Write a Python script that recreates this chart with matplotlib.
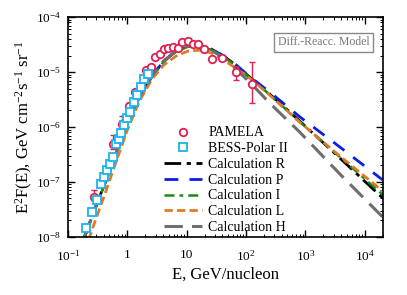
import numpy as np
import matplotlib
matplotlib.use("Agg")
import matplotlib.pyplot as plt
from matplotlib.ticker import FixedLocator, LogLocator, NullFormatter

plt.rcParams["font.family"] = ["Liberation Serif", "DejaVu Serif"]
plt.rcParams["mathtext.fontset"] = "custom"
plt.rcParams["mathtext.rm"] = "Liberation Serif"
plt.rcParams["mathtext.it"] = "Liberation Serif:italic"

# ── data ────────────────────────────────────────────────────────────────
pamela_e = [0.279, 0.58, 0.82, 1.08, 1.34, 1.67, 2.06, 2.55, 2.97, 3.54, 4.22,
            4.92, 5.86, 7.11, 8.47, 10.5, 12.7, 15.4, 19.5, 26.3, 38.7, 67.4, 128]
pamela_f = [5.4e-8, 4.84e-7, 1.12e-6, 2.41e-6, 4.39e-6, 5.34e-6, 1.11e-5, 1.26e-5,
            1.87e-5, 2.17e-5, 2.67e-5, 2.73e-5, 2.91e-5, 2.79e-5, 3.59e-5, 3.74e-5,
            3.23e-5, 3.3e-5, 2.59e-5, 1.70e-5, 1.82e-5, 1.02e-5, 5.97e-6]
pamela_lo = [4.6e-8, 3.9e-7, 9.5e-7, 2.2e-6, 4.1e-6, 5.1e-6, 1.06e-5, 1.22e-5,
             1.83e-5, 2.13e-5, 2.63e-5, 2.69e-5, 2.87e-5, 2.75e-5, 3.53e-5, 3.68e-5,
             3.18e-5, 3.25e-5, 2.52e-5, 1.58e-5, 1.76e-5, 7.3e-6, 2.7e-6]
pamela_hi = [7.2e-8, 7.2e-7, 1.6e-6, 2.75e-6, 4.7e-6, 5.6e-6, 1.16e-5, 1.30e-5,
             1.91e-5, 2.21e-5, 2.71e-5, 2.77e-5, 2.95e-5, 2.83e-5, 3.65e-5, 3.80e-5,
             3.28e-5, 3.35e-5, 2.66e-5, 1.76e-5, 1.88e-5, 1.30e-5, 1.52e-5]

bess_e = [0.205, 0.258, 0.307, 0.36, 0.404, 0.454, 0.51, 0.573, 0.655, 0.723,
          0.78, 0.877, 1.0, 1.11, 1.29, 1.48, 1.69, 1.90, 2.22]
bess_f = [1.43e-8, 2.85e-8, 4.61e-8, 9.2e-8, 1.23e-7, 1.62e-7, 2.12e-7, 2.85e-7,
          4.91e-7, 6.05e-7, 7.87e-7, 1.09e-6, 1.46e-6, 1.87e-6, 2.85e-6, 3.82e-6,
          5.45e-6, 7.46e-6, 9.2e-6]

calc_e = [0.19, 0.28, 0.42, 0.62, 1.0, 1.6, 2.6, 4.1, 6.6, 10.5, 17, 26, 42, 67,
          115, 250, 800, 3800, 20000]
calc_r = [1.0e-8, 3.1e-8, 9.6e-8, 2.97e-7, 1.23e-6, 3.51e-6, 8.46e-6, 1.58e-5,
          2.41e-5, 2.97e-5, 2.97e-5, 2.62e-5, 1.95e-5, 1.34e-5, 8.11e-6, 3.98e-6,
          1.29e-6, 2.73e-7, 5.12e-8]
calc_p = [1.0e-8, 3.1e-8, 9.6e-8, 2.97e-7, 1.23e-6, 3.51e-6, 8.46e-6, 1.58e-5,
          2.41e-5, 2.97e-5, 2.97e-5, 2.62e-5, 1.97e-5, 1.37e-5, 8.3e-6, 4.33e-6,
          1.54e-6, 4.33e-7, 1.09e-7]
calc_i = [1.0e-8, 3.0e-8, 9.2e-8, 2.85e-7, 1.18e-6, 3.4e-6, 8.2e-6, 1.54e-5,
          2.35e-5, 2.9e-5, 2.9e-5, 2.55e-5, 1.9e-5, 1.3e-5, 7.9e-6, 3.9e-6,
          1.25e-6, 2.85e-7, 5.9e-8]
calc_l = [5.34e-9, 1.80e-8, 6.05e-8, 2.04e-7, 8.81e-7, 2.97e-6, 7.46e-6, 1.34e-5,
          1.95e-5, 2.41e-5, 2.51e-5, 2.22e-5, 1.65e-5, 1.18e-5, 7.78e-6, 3.82e-6,
          1.23e-6, 2.97e-7, 6.86e-8]
calc_h = [1.0e-8, 3.1e-8, 9.6e-8, 2.97e-7, 1.23e-6, 3.51e-6, 8.46e-6, 1.58e-5,
          2.41e-5, 2.97e-5, 2.97e-5, 2.51e-5, 1.80e-5, 1.13e-5, 6.58e-6, 2.73e-6,
          8.11e-7, 1.40e-7, 2.31e-8]

x_ticks = [0.1, 1, 10, 100, 1000, 10000]
x_ticklabels = ["$10^{-1}$", "1", "10", "$10^{2}$", "$10^{3}$", "$10^{4}$"]
y_ticks = [1e-8, 1e-7, 1e-6, 1e-5, 1e-4]
y_ticklabels = ["$10^{-8}$", "$10^{-7}$", "$10^{-6}$", "$10^{-5}$", "$10^{-4}$"]

# ── plot ────────────────────────────────────────────────────────────────
fig = plt.figure(figsize=(4.07, 2.95), dpi=100)
ax = fig.add_axes([0.167, 0.197, 0.773, 0.745])

red = "#e0204f"
cyan = "#19b4ec"

ax.plot(calc_e, calc_r, color="black", lw=2.0, dashes=(6, 2, 1.5, 2), label="Calculation R")
ax.plot(calc_e, calc_p, color="#0a1ee6", lw=2.0, dashes=(5, 4), label="Calculation P")
ax.plot(calc_e, calc_i, color="#1a8a1a", lw=1.8, dashes=(4, 2, 1.5, 2), label="Calculation I")
ax.plot(calc_e, calc_l, color="#e07a28", lw=2.0, dashes=(3, 1.5), label="Calculation L")
ax.plot(calc_e, calc_h, color="#6e6e6e", lw=2.2, dashes=(6, 3), label="Calculation H")

pf = np.array(pamela_f)
yerr = [pf - np.array(pamela_lo), np.array(pamela_hi) - pf]
ax.errorbar(pamela_e, pamela_f, yerr=yerr, fmt="none", ecolor=red, elinewidth=1.0,
            capsize=2.5, capthick=1.0, zorder=5)
ax.plot(pamela_e, pamela_f, "o", ms=5.4, mfc="white", mec=red, mew=1.3,
        ls="none", label="PAMELA", zorder=6)
ax.plot(bess_e, bess_f, "s", ms=5.4, mfc="white", mec=cyan, mew=1.3,
        ls="none", label="BESS-Polar II", zorder=6)

ax.set_xscale("log")
ax.set_yscale("log")
ax.set_xlim(0.1, 2e4)
ax.set_ylim(1e-8, 1e-4)

ax.xaxis.set_major_locator(FixedLocator(x_ticks))
ax.set_xticklabels(x_ticklabels)
ax.yaxis.set_major_locator(FixedLocator(y_ticks))
ax.set_yticklabels(y_ticklabels)
ax.xaxis.set_minor_locator(LogLocator(base=10, subs=np.arange(2, 10), numticks=20))
ax.yaxis.set_minor_locator(LogLocator(base=10, subs=np.arange(2, 10), numticks=20))
ax.xaxis.set_minor_formatter(NullFormatter())
ax.yaxis.set_minor_formatter(NullFormatter())
ax.tick_params(which="both", direction="in", top=True, right=True, labelsize=9.5)
ax.tick_params(which="major", length=5, width=1.0)
ax.tick_params(which="minor", length=2.5, width=0.7)
ax.tick_params(axis="x", pad=9)
ax.tick_params(axis="y", pad=5)
for s in ax.spines.values():
    s.set_linewidth(1.2)

ax.set_xlabel("E, GeV/nucleon", fontsize=12, labelpad=2)
ax.set_ylabel("E$^2$F(E), GeV cm$^{-2}$s$^{-1}$ sr$^{-1}$", fontsize=12, labelpad=1)

ax.text(0.958, 0.885, "Diff.-Reacc. Model", transform=ax.transAxes, ha="right",
        va="center", fontsize=8.5, color="#777777",
        bbox=dict(boxstyle="square,pad=0.3", fc="white", ec="#888888", lw=1.0))

handles, labels = ax.get_legend_handles_labels()
order = [5, 6, 0, 1, 2, 3, 4]
ax.legend([handles[i] for i in order], [labels[i] for i in order],
          loc="lower left", bbox_to_anchor=(0.28, -0.025), frameon=False,
          fontsize=10, handlelength=2.7, handletextpad=0.45, labelspacing=0.2,
          borderaxespad=0.2)

fig.savefig("out.png", dpi=100)
